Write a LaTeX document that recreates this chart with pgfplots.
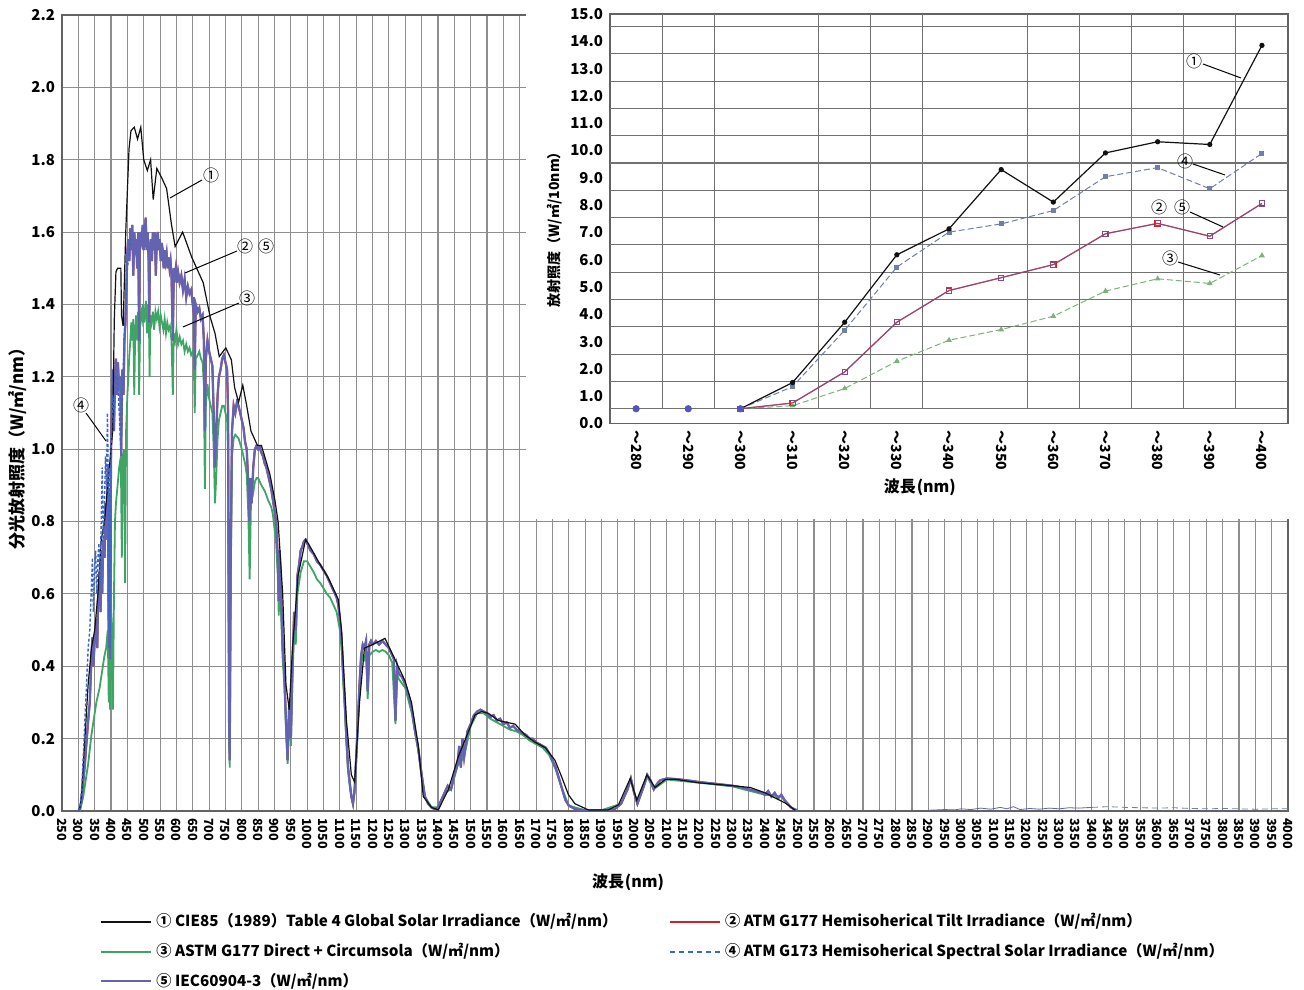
\documentclass[border=0pt]{standalone}
\usepackage{pgfplots}
\usepackage{pgfplotstable}
\pgfplotsset{compat=1.18}
\usepackage{fontspec}
\setmainfont{Noto Sans CJK JP}
\definecolor{cBlack}{HTML}{111111}
\definecolor{cRed}{HTML}{D3202E}
\definecolor{cGreen}{HTML}{3FA564}
\definecolor{cBlue}{HTML}{3A66C8}
\definecolor{cPurple}{HTML}{6363B0}
\definecolor{gridc}{HTML}{8E8E8E}
\definecolor{iBlue}{HTML}{6F7FA8}
\definecolor{iGreen}{HTML}{7DB27D}
\definecolor{iMauve}{HTML}{8E3F62}

\pgfplotstableread{
x y
300 0
305 0.005
310 0.03
315 0.08
320 0.13
325 0.19
330 0.25
335 0.30
340 0.42
343 0.48
346 0.40
350 0.47
355 0.53
358 0.45
360 0.58
365 0.66
368 0.55
370 0.72
373 0.60
376 0.75
380 0.70
383 0.85
386 0.75
390 0.95
393 0.45
395 0.88
397 0.42
400 1.00
403 1.12
406 1.22
409 1.05
412 1.20
415 1.25
418 1.15
421 1.24
424 1.18
428 1.20
431 0.98
434 1.22
438 1.15
441 1.30
444 1.35
447 1.45
450 1.55
453 1.58
456 1.52
459 1.61
462 1.55
465 1.62
468 1.48
471 1.60
474 1.56
477 1.58
480 1.50
483 1.60
486 1.30
488 1.55
491 1.60
494 1.58
497 1.62
500 1.55
503 1.60
506 1.64
509 1.55
512 1.60
515 1.52
517 1.35
519 1.55
522 1.58
525 1.52
528 1.60
531 1.55
534 1.60
537 1.48
540 1.58
543 1.60
546 1.55
549 1.58
552 1.52
555 1.57
558 1.55
561 1.50
564 1.55
567 1.52
570 1.54
573 1.50
576 1.53
579 1.50
582 1.52
585 1.48
589 1.30
592 1.50
595 1.48
598 1.50
601 1.46
605 1.49
610 1.46
615 1.48
620 1.44
625 1.47
630 1.42
635 1.45
640 1.43
645 1.44
650 1.40
653 1.42
656 1.22
659 1.40
665 1.38
670 1.39
675 1.36
680 1.37
684 1.30
687 1.05
690 1.25
695 1.30
700 1.27
705 1.25
710 1.23
714 1.10
718 0.95
722 1.05
726 1.15
730 1.20
735 1.22
740 1.25
745 1.26
750 1.24
755 1.22
758 1.10
761 0.25
763 0.14
766 0.70
770 1.05
775 1.12
780 1.10
785 1.13
790 1.12
795 1.10
800 1.08
805 1.06
810 1.02
815 1.00
820 0.90
823 0.80
826 0.92
830 0.85
835 0.95
840 1.00
845 1.01
850 1.00
855 1.005
860 0.99
865 0.98
870 0.96
875 0.95
880 0.93
885 0.91
890 0.89
895 0.86
900 0.83
905 0.80
910 0.70
913 0.58
916 0.72
920 0.60
925 0.45
930 0.38
935 0.25
940 0.14
945 0.30
950 0.20
955 0.40
960 0.55
965 0.50
970 0.65
975 0.68
980 0.72
985 0.73
990 0.745
995 0.75
1000 0.74
1010 0.72
1020 0.71
1030 0.69
1040 0.68
1050 0.665
1060 0.65
1070 0.63
1080 0.61
1090 0.59
1095 0.57
1100 0.53
1105 0.48
1110 0.38
1115 0.30
1120 0.20
1125 0.12
1130 0.08
1135 0.04
1140 0.02
1145 0.06
1150 0.15
1155 0.25
1160 0.35
1165 0.43
1170 0.46
1175 0.45
1180 0.47
1185 0.33
1190 0.46
1195 0.47
1200 0.46
1210 0.47
1220 0.46
1230 0.47
1240 0.46
1250 0.45
1260 0.43
1265 0.42
1270 0.25
1275 0.40
1280 0.38
1290 0.37
1300 0.35
1310 0.32
1320 0.28
1330 0.22
1340 0.17
1350 0.10
1360 0.04
1370 0.02
1380 0.01
1390 0.005
1400 0.01
1410 0.03
1420 0.05
1430 0.07
1440 0.06
1450 0.10
1460 0.13
1465 0.18
1470 0.12
1475 0.20
1480 0.15
1490 0.22
1500 0.24
1510 0.265
1520 0.275
1530 0.28
1540 0.275
1550 0.27
1560 0.26
1570 0.265
1580 0.25
1590 0.255
1600 0.24
1610 0.245
1620 0.23
1630 0.235
1640 0.225
1650 0.22
1660 0.215
1670 0.21
1680 0.20
1690 0.20
1700 0.19
1710 0.185
1720 0.18
1730 0.175
1740 0.16
1750 0.14
1760 0.12
1770 0.09
1780 0.06
1790 0.03
1800 0.015
1820 0.005
1850 0.002
1900 0.002
1940 0.005
1960 0.02
1980 0.06
1990 0.09
2000 0.05
2010 0.02
2030 0.07
2040 0.10
2050 0.085
2060 0.06
2070 0.075
2080 0.085
2100 0.09
2130 0.088
2160 0.085
2200 0.08
2250 0.075
2300 0.07
2330 0.065
2350 0.06
2370 0.055
2390 0.05
2400 0.045
2410 0.055
2420 0.04
2430 0.05
2440 0.035
2450 0.045
2460 0.03
2470 0.02
2480 0.01
2490 0.004
2500 0.002
}\tabIEC

\pgfplotstableread{
x y
300 0
305 0.003
310 0.02
315 0.04
320 0.07
325 0.10
330 0.13
335 0.17
340 0.21
345 0.24
350 0.27
355 0.30
360 0.32
365 0.34
370 0.37
375 0.40
380 0.43
385 0.45
390 0.50
393 0.30
395 0.52
397 0.28
400 0.55
403 0.50
406 0.28
409 0.60
412 0.80
415 0.85
420 0.90
425 0.95
430 0.98
433 0.70
436 0.98
440 1.00
443 0.63
446 1.05
450 1.15
453 1.20
456 1.26
459 1.30
462 1.35
465 1.30
468 1.36
471 1.15
474 1.33
477 1.37
480 1.30
483 1.38
486 1.15
489 1.35
492 1.38
495 1.36
498 1.40
501 1.35
504 1.38
507 1.41
510 1.32
513 1.40
516 1.35
518 1.20
520 1.37
524 1.35
528 1.38
532 1.33
536 1.38
540 1.36
544 1.38
548 1.34
552 1.37
556 1.35
560 1.33
564 1.36
568 1.32
572 1.35
576 1.33
580 1.34
585 1.30
589 1.15
592 1.32
596 1.30
600 1.33
605 1.29
610 1.31
615 1.29
620 1.30
625 1.27
630 1.29
635 1.27
640 1.28
645 1.26
650 1.27
653 1.25
656 1.10
659 1.25
665 1.26
670 1.27
675 1.25
680 1.24
684 1.18
687 0.89
690 1.12
695 1.18
700 1.14
705 1.12
710 1.10
714 1.00
718 0.85
722 0.93
726 1.03
730 1.08
735 1.10
740 1.12
745 1.12
750 1.10
755 1.08
758 0.98
761 0.22
763 0.12
766 0.62
770 0.98
775 1.03
780 1.04
790 1.03
800 1.00
810 0.96
815 0.93
820 0.82
824 0.64
828 0.85
835 0.88
840 0.91
845 0.92
850 0.92
860 0.90
870 0.885
880 0.86
890 0.84
895 0.82
900 0.78
905 0.74
910 0.65
913 0.54
916 0.66
920 0.55
925 0.42
930 0.35
935 0.23
940 0.13
945 0.28
950 0.18
955 0.37
960 0.50
965 0.46
970 0.60
980 0.66
990 0.69
1000 0.69
1010 0.675
1020 0.66
1030 0.64
1040 0.63
1050 0.615
1060 0.60
1070 0.59
1080 0.57
1090 0.55
1100 0.50
1105 0.45
1110 0.36
1115 0.28
1120 0.19
1125 0.11
1130 0.07
1135 0.04
1140 0.02
1145 0.05
1150 0.14
1155 0.23
1160 0.33
1165 0.41
1170 0.43
1175 0.42
1180 0.44
1185 0.31
1190 0.43
1200 0.44
1210 0.445
1220 0.44
1230 0.445
1240 0.44
1250 0.43
1260 0.41
1270 0.24
1275 0.38
1280 0.365
1300 0.34
1320 0.27
1340 0.165
1360 0.04
1380 0.01
1400 0.01
1420 0.05
1440 0.06
1460 0.125
1480 0.15
1500 0.235
1520 0.27
1540 0.27
1560 0.255
1580 0.245
1600 0.235
1620 0.225
1640 0.22
1660 0.21
1680 0.195
1700 0.185
1720 0.175
1740 0.155
1760 0.115
1780 0.06
1800 0.015
1850 0.002
1900 0.002
1960 0.02
1990 0.085
2010 0.02
2040 0.095
2060 0.06
2100 0.087
2200 0.078
2300 0.068
2400 0.045
2450 0.04
2480 0.01
2500 0.002
}\tabDirect

\pgfplotstableread{
x y
300 0
305 0.01
310 0.05
320 0.20
330 0.35
340 0.45
350 0.50
360 0.60
370 0.75
380 0.80
390 0.90
400 1.00
405 1.05
410 1.36
415 1.49
420 1.50
430 1.50
432 1.37
437 1.34
445 1.60
455 1.83
461 1.88
471 1.89
481 1.857
491 1.89
500 1.80
511 1.77
521 1.80
529 1.69
540 1.776
555 1.75
570 1.72
585 1.62
596 1.56
619 1.60
647 1.53
682 1.46
703 1.366
718 1.32
731 1.256
751 1.28
768 1.247
778 1.17
790 1.13
803 1.177
815 1.12
828 1.05
848 1.01
860 1.01
870 0.98
886 0.93
901 0.86
911 0.80
925 0.60
935 0.35
945 0.28
955 0.45
972 0.65
995 0.75
1003 0.74
1034 0.69
1064 0.645
1095 0.585
1105 0.50
1120 0.25
1135 0.10
1145 0.08
1160 0.30
1175 0.45
1200 0.46
1238 0.477
1268 0.42
1299 0.36
1319 0.30
1340 0.18
1355 0.04
1380 0.01
1401 0.003
1432 0.06
1462 0.15
1498 0.23
1513 0.265
1533 0.275
1554 0.27
1585 0.25
1636 0.24
1666 0.21
1697 0.19
1728 0.175
1758 0.14
1778 0.095
1799 0.045
1819 0.02
1860 0.003
1921 0.003
1952 0.017
1988 0.09
2008 0.03
2039 0.10
2064 0.065
2095 0.087
2125 0.088
2197 0.078
2299 0.07
2355 0.065
2401 0.05
2462 0.022
2493 0.002
}\tabCIE

\pgfplotstableread{
x y
300 0
305 0.01
310 0.06
315 0.15
320 0.25
325 0.35
330 0.45
335 0.50
340 0.62
343 0.70
346 0.55
350 0.68
353 0.72
356 0.60
360 0.70
363 0.74
366 0.62
370 0.80
373 0.95
376 0.75
380 0.85
383 0.98
386 0.90
389 1.10
391 0.95
393 0.50
395 0.95
397 0.45
400 1.00
405 1.15
410 1.10
415 1.20
420 1.20
430 1.00
440 1.30
450 1.50
460 1.58
}\tabGS

\begin{document}
\begin{tikzpicture}[x=1pt,y=1pt]
\begin{axis}[
  at={(31pt,89pt)}, anchor=south west,
  scale only axis, width=613pt, height=398pt,
  xmin=250, xmax=4000, ymin=0, ymax=2.2,
  xtick={250,300,...,4000},
  ytick={0,0.2,0.4,0.6,0.8,1.0,1.2,1.4,1.6,1.8,2.0,2.2},
  grid=major,
  major grid style={gridc, line width=0.55pt},
  axis line style={gridc!70!black, line width=0.6pt},
  major tick length=0pt,
  /pgf/number format/assume math mode=true,
  xticklabel style={font=\fontsize{6.3}{7}\selectfont\bfseries, rotate=-90, anchor=west, /pgf/number format/1000 sep={}},
  yticklabel style={font=\fontsize{7.5}{8}\selectfont\bfseries, /pgf/number format/fixed, /pgf/number format/fixed zerofill, /pgf/number format/precision=1},
  xlabel={波長\kern0.5pt(nm)},
  xlabel style={at={([yshift=-35.5pt]axis description cs:0.4617,0)}, anchor=center, font=\fontsize{8}{9}\selectfont\bfseries},
  ylabel={分光放射照度（W/㎡/nm）},
  ylabel style={at={([xshift=-22pt]axis description cs:0,0.46)}, anchor=center, font=\fontsize{8.5}{9}\selectfont\bfseries},
  legend style={at={(0,0)}, anchor=north west, xshift=16pt, yshift=-47pt, draw=none, fill=none,
    font=\fontsize{7.6}{9}\selectfont\bfseries, legend columns=2,
    /tikz/every even column/.append style={column sep=24pt}, row sep=2.8pt},
  legend cell align=left,
  legend image code/.code={\draw[#1] (0pt,0pt) -- (25pt,0pt);},
]
\addplot[cRed, line width=1pt, forget plot] table {\tabIEC};
\addplot[cGreen, line width=0.9pt, forget plot] table {\tabDirect};
\addplot[cPurple, line width=1.1pt, forget plot] table {\tabIEC};
\addplot[cBlack, line width=0.6pt, forget plot] table {\tabCIE};
\addplot[cBlue, line width=0.7pt, dash pattern=on 1.5pt off 1pt, forget plot] table {\tabGS};
\addplot[cPurple, line width=0.4pt, forget plot] coordinates {(2900,0.002)(2950,0.004)(2980,0.003)(3000,0.006)(3030,0.004)(3060,0.008)(3090,0.005)(3120,0.01)(3140,0.006)(3160,0.012)(3180,0.004)(3210,0.007)(3240,0.005)(3270,0.008)(3300,0.006)(3330,0.009)(3360,0.008)(3400,0.01)};
\addplot[iBlue, line width=0.4pt, dash pattern=on 3pt off 2pt, forget plot] coordinates {(3400,0.01)(3450,0.012)(3500,0.01)(3550,0.009)(3600,0.008)(3650,0.009)(3700,0.007)(3750,0.006)(3800,0.007)(3850,0.006)(3900,0.005)(3950,0.006)(4000,0.006)};
\addlegendimage{cBlack, line width=1pt}
\addlegendentry{① CIE85（1989）Table 4 Global Solar Irradiance（W/㎡/nm）}
\addlegendimage{cRed, line width=1pt}
\addlegendentry{② ATM G177 Hemisoherical Tilt Irradiance（W/㎡/nm）}
\addlegendimage{cGreen, line width=1pt}
\addlegendentry{③ ASTM G177 Direct + Circumsola（W/㎡/nm）}
\addlegendimage{cBlue, line width=1pt, dash pattern=on 2.5pt off 2pt}
\addlegendentry{④ ATM G173 Hemisoherical Spectral Solar Irradiance（W/㎡/nm）}
\addlegendimage{cPurple, line width=1pt}
\addlegendentry{⑤ IEC60904-3（W/㎡/nm）}
\coordinate (wA) at (axis cs:1670,0.806);
\coordinate (wB) at (axis cs:4000,2.2);
\end{axis}
\fill[white] (wA) rectangle ([xshift=2pt,yshift=2pt]wB);
\begin{axis}[
  at={(305pt,282.75pt)}, anchor=south west,
  scale only axis, width=339pt, height=204.75pt,
  xmin=-0.5, xmax=12.5, ymin=0, ymax=15,
  axis background/.style={fill=white},
  xtick={0,...,12},
  xticklabels={～280,～290,～300,～310,～320,～330,～340,～350,～360,～370,～380,～390,～400},
  ytick={0,1,...,15},
  extra y ticks={0.54,1.54,2.54,3.54,4.54,5.54,6.54,7.54,8.54,9.54,10.54,11.54,12.54,13.54,14.54},
  extra y tick labels={},
  extra y tick style={grid=major, major grid style={gridc!80!black, line width=0.55pt}},
  axis line style={gridc!70!black, line width=0.6pt},
  major tick length=0pt,
  /pgf/number format/assume math mode=true,
  xticklabel style={font=\fontsize{7}{8}\selectfont\bfseries, rotate=-90, anchor=west},
  yticklabel style={font=\fontsize{7.5}{8}\selectfont\bfseries, /pgf/number format/fixed, /pgf/number format/fixed zerofill, /pgf/number format/precision=1},
  xlabel={波長\kern0.5pt(nm)},
  xlabel style={at={([yshift=-31.75pt]axis description cs:0.457,0)}, anchor=center, font=\fontsize{8}{9}\selectfont\bfseries},
  ylabel={放射照度（W/㎡/10nm）},
  ylabel style={at={([xshift=-27.5pt]axis description cs:0,0.482)}, anchor=center, font=\fontsize{7}{8}\selectfont\bfseries},
]
\draw[gridc!80!black, line width=0.55pt] (axis cs:0.5,0.54) -- (axis cs:0.5,15);
\draw[gridc!80!black, line width=0.55pt] (axis cs:1.5,0.54) -- (axis cs:1.5,15);
\draw[gridc!80!black, line width=0.55pt] (axis cs:3.5,0.54) -- (axis cs:3.5,15);
\draw[gridc!80!black, line width=0.55pt] (axis cs:4.5,0.54) -- (axis cs:4.5,15);
\draw[gridc!80!black, line width=0.55pt] (axis cs:5.5,0.54) -- (axis cs:5.5,15);
\draw[gridc!80!black, line width=0.55pt] (axis cs:7.5,0.54) -- (axis cs:7.5,15);
\draw[gridc!80!black, line width=0.55pt] (axis cs:8.5,0.54) -- (axis cs:8.5,15);
\draw[gridc!80!black, line width=0.55pt] (axis cs:9.5,0.54) -- (axis cs:9.5,15);
\draw[gridc!80!black, line width=0.55pt] (axis cs:10.5,0.54) -- (axis cs:10.5,15);
\draw[gridc!80!black, line width=0.55pt] (axis cs:11.5,0.54) -- (axis cs:11.5,15);
\addplot[iGreen, line width=0.5pt, dash pattern=on 3pt off 1.5pt, mark=triangle*, mark size=1.2pt, mark options={solid}] coordinates {(2,0.54)(3,0.65)(4,1.28)(5,2.28)(6,3.05)(7,3.44)(8,3.93)(9,4.85)(10,5.30)(11,5.13)(12,6.15)};
\addplot[cRed, line width=0.6pt, mark=square, mark size=1.3pt] coordinates {(2,0.54)(3,0.75)(4,1.89)(5,3.71)(6,4.87)(7,5.34)(8,5.82)(9,6.95)(10,7.33)(11,6.86)(12,8.06)};
\addplot[cPurple, line width=0.5pt, opacity=0.6, mark=square, mark size=1.3pt] coordinates {(2,0.54)(3,0.75)(4,1.89)(5,3.71)(6,4.87)(7,5.34)(8,5.82)(9,6.95)(10,7.33)(11,6.86)(12,8.06)};
\addplot[iBlue, line width=0.5pt, dash pattern=on 3pt off 1.5pt, mark=square*, mark size=1pt, mark options={solid}] coordinates {(2,0.54)(3,1.35)(4,3.42)(5,5.73)(6,7.01)(7,7.31)(8,7.80)(9,9.04)(10,9.37)(11,8.60)(12,9.89)};
\addplot[cBlack, line width=0.6pt, mark=*, mark size=1pt] coordinates {(2,0.54)(3,1.5)(4,3.71)(5,6.18)(6,7.13)(7,9.30)(8,8.11)(9,9.91)(10,10.32)(11,10.22)(12,13.85)};
\addplot[only marks, mark=*, mark size=1.6pt, color=cPurple!85!blue] coordinates {(0,0.54)(1,0.54)(2,0.54)};
\end{axis}
\begin{scope}[every node/.style={font=\fontsize{8}{8}\selectfont, inner sep=0pt}]
\node at (105.5,407) {①};
\draw[line width=0.5pt] (101,404.5) -- (85,395.5);
\node at (122.5,371.5) {②};
\node at (133,371.5) {⑤};
\draw[line width=0.5pt] (118.5,369) -- (92.5,358);
\node at (123.5,345.5) {③};
\draw[line width=0.5pt] (119.5,343) -- (91.5,331);
\node at (40.5,292) {④};
\draw[line width=0.5pt] (43,288) -- (53,274);
\node at (597,464) {①};
\draw[line width=0.5pt] (601.5,462.5) -- (620.5,455.5);
\node at (592.5,414) {④};
\draw[line width=0.5pt] (596.5,412.5) -- (612.5,407);
\node at (579.5,391) {②};
\node at (591,391) {⑤};
\draw[line width=0.5pt] (595,388.5) -- (611.5,381);
\node at (585,365.5) {③};
\draw[line width=0.5pt] (589,363.5) -- (610,357);
\end{scope}
\pgfresetboundingbox
\path (0,0) rectangle (652,494.5);
\end{tikzpicture}
\end{document}
